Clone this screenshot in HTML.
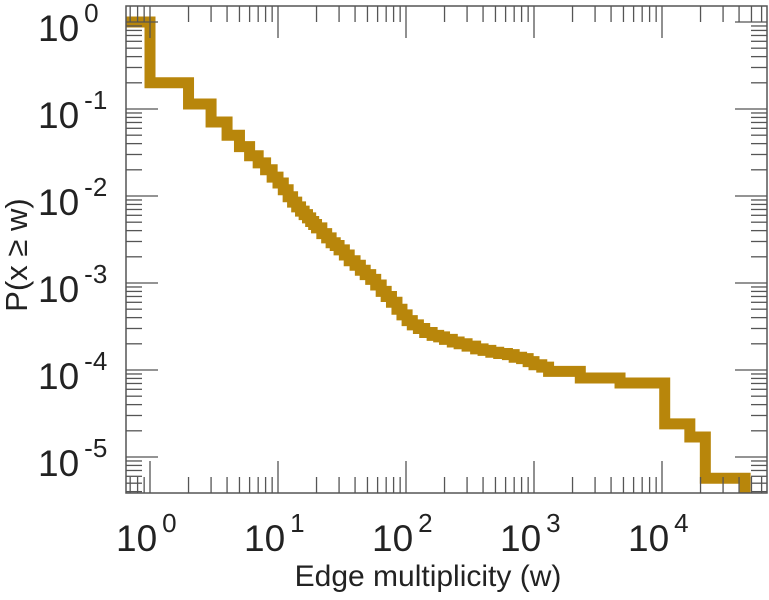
<!DOCTYPE html>
<html><head><meta charset="utf-8"><style>
html,body{margin:0;background:#fff;overflow:hidden;width:769px;height:600px;}
svg{display:block;font-family:"Liberation Sans",sans-serif;}
</style></head><body>
<svg id="chart" width="769" height="600" viewBox="0 0 769 600" xmlns="http://www.w3.org/2000/svg"></svg>
<script>
const xTickExps = [0, 1, 2, 3, 4];
const yTickExps = [0, -1, -2, -3, -4, -5];
const breakW = [1, 2, 3, 4, 5, 6, 7, 8, 9, 10, 11, 12, 13, 14, 15, 16, 17, 18, 19, 20, 22, 24, 26, 28, 30, 33, 36, 40, 44, 48, 53, 58, 64, 70, 77, 85, 93, 102, 112, 125, 140, 160, 180, 200, 230, 260, 300, 350, 400, 460, 530, 620, 700, 800, 900, 1000, 1150, 1300, 2300, 4700, 10500, 16500, 21800, 44600];
const breakP = [0.2, 0.114, 0.071, 0.05, 0.037, 0.029, 0.024, 0.02, 0.0165, 0.0141, 0.0118, 0.0098, 0.0085, 0.0075, 0.0067, 0.0061, 0.0056, 0.0051, 0.0047, 0.0043, 0.0037, 0.0033, 0.0029, 0.0027, 0.0024, 0.0021, 0.0018, 0.0016, 0.0014, 0.00125, 0.0011, 0.00095, 0.0008, 0.0007, 0.0006, 0.0005, 0.00043, 0.00037, 0.00033, 0.0003, 0.00027, 0.00025, 0.00024, 0.000225, 0.00021, 0.0002, 0.000188, 0.000175, 0.000168, 0.00016, 0.000155, 0.00015, 0.00014, 0.000135, 0.000125, 0.000115, 0.000108, 0.0000965, 0.000081, 0.000071, 0.000024, 0.000017, 0.0000057, 0.0000001];
const startP = 1;

const NS = "http://www.w3.org/2000/svg";
const svg = document.getElementById("chart");
const L = 126, R = 767, T = 6, B = 493;
const xs = w => 150 + 128 * Math.log10(w);
const ys = p => 22 - 87 * Math.log10(p);
function el(tag, attrs, parent) {
  const e = document.createElementNS(NS, tag);
  for (const k in attrs) e.setAttribute(k, attrs[k]);
  (parent || svg).appendChild(e);
  return e;
}
const defs = el("defs", {});
const cp = el("clipPath", {id: "clip"}, defs);
el("rect", {x: L, y: T, width: R - L, height: B - T}, cp);

let d = "M" + L + "," + ys(startP);
let cur = startP;
for (let i = 0; i < breakW.length; i++) {
  const x = xs(breakW[i]);
  d += " L" + x + "," + ys(cur) + " L" + x + "," + ys(breakP[i]);
  cur = breakP[i];
}
d += " L" + R + "," + ys(cur);
const line = el("path", {d: d, fill: "none", stroke: "#b8860b", "stroke-width": 11, "stroke-linejoin": "miter", "stroke-miterlimit": 4, "clip-path": "url(#clip)"});



const tg = el("g", {stroke: "#555", "stroke-width": 1.3});


for (let e = -1; e <= 4; e++) {
  for (let m = 1; m <= 9; m++) {
    const x = xs(m * Math.pow(10, e));
    if (x < L || x > R) continue;
    const len = m === 1 ? 32 : 16;
    el("line", {x1: x, x2: x, y1: B, y2: B - len}, tg);
    el("line", {x1: x, x2: x, y1: T, y2: T + len}, tg);
  }
}
for (let e = -6; e <= 0; e++) {
  for (let m = 1; m <= 9; m++) {
    const y = ys(m * Math.pow(10, e));
    if (y < T || y > B) continue;
    const len = m === 1 ? 32 : 16;
    el("line", {x1: L, x2: L + len, y1: y, y2: y}, tg);
    el("line", {x1: R, x2: R - len, y1: y, y2: y}, tg);
  }
}
const frame = el("rect", {x: L, y: T, width: R - L, height: B - T, fill: "none", stroke: "#555", "stroke-width": 1.5});



xTickExps.forEach(e => {
  const t = el("text", {x: xs(Math.pow(10, e)) - 34, y: 551, "font-size": 37, fill: "#222"});
  
  
  t.textContent = "10";
  const s = el("tspan", {dx: 5, dy: -19, "font-size": 26}, t);
  s.textContent = String(e);
});
yTickExps.forEach(e => {
  const t = el("text", {x: 38, y: ys(Math.pow(10, e)) + 19, "font-size": 37, fill: "#222"});
  
  
  t.textContent = "10";
  const s = el("tspan", {dx: 5, dy: -19, "font-size": 26}, t);
  s.textContent = String(e);
});
const xt = el("text", {x: 428, y: 586, "font-size": 30, fill: "#222", "text-anchor": "middle"});


xt.textContent = "Edge multiplicity (w)";
const yt = el("text", {x: 0, y: 0, "font-size": 31, fill: "#222", "text-anchor": "middle", transform: "translate(27,255) rotate(-90)"});


yt.textContent = "P(x \u2265 w)";
</script>
</body></html>
